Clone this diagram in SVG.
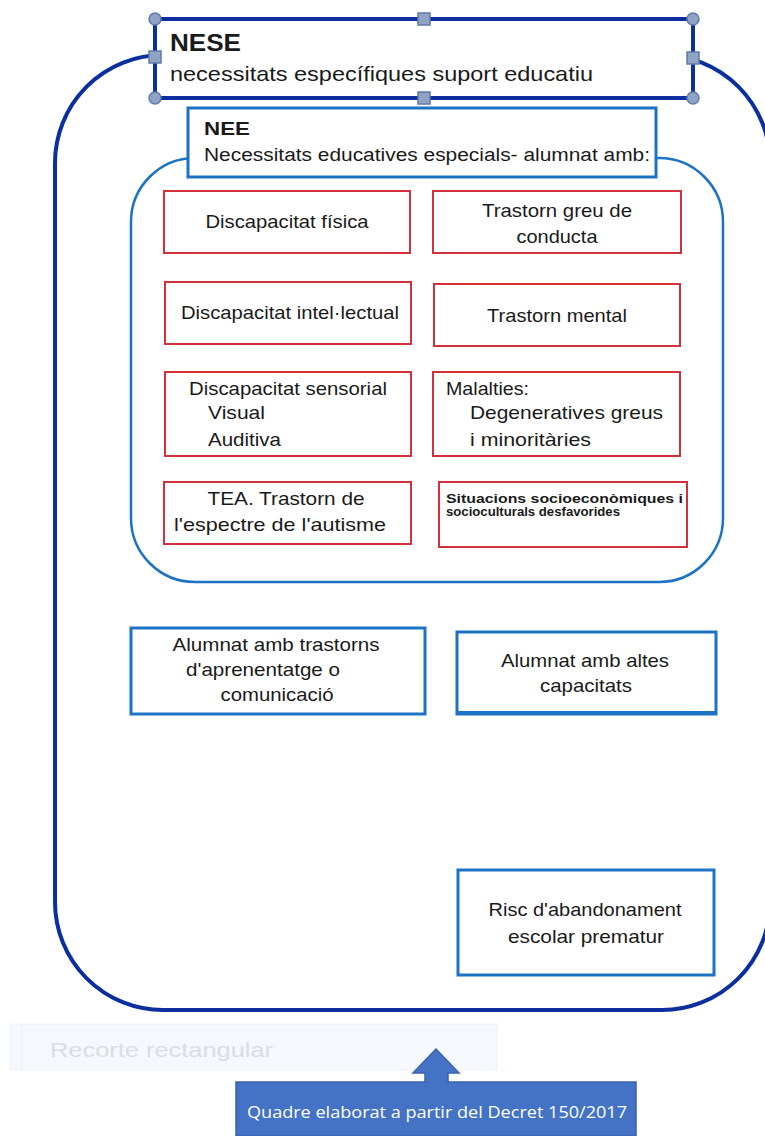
<svg xmlns="http://www.w3.org/2000/svg" width="765" height="1136" viewBox="0 0 765 1136">
<style>
text{font-family:"Liberation Sans",Arial,sans-serif;fill:#1a1a1a}
.red{fill:#fff;stroke:#d2303a;stroke-width:2}
.blue{fill:#fff;stroke:#1c72c4;stroke-width:3}
.t{font-size:18.5px}
.c{text-anchor:middle}
.h{fill:#8fa3c4;stroke:#5f7ba6;stroke-width:1.5}
</style>
<rect width="765" height="1136" fill="#fff"/>
<g id="outer"><rect x="55" y="55" width="715" height="955" rx="108" fill="none" stroke="#0b2f9f" stroke-width="4"/></g>
<g id="nese">
<rect x="155" y="19" width="538" height="79" fill="#fff" stroke="#0b2f9f" stroke-width="4"/>
<text x="170" y="51" textLength="71" lengthAdjust="spacingAndGlyphs" style="font-size:23px;font-weight:bold">NESE</text>
<text x="170" y="81" textLength="423" lengthAdjust="spacingAndGlyphs" style="font-size:21px">necessitats específiques suport educatiu</text>
<circle class="h" cx="155" cy="19" r="6"/><circle class="h" cx="693" cy="19" r="6"/>
<circle class="h" cx="155" cy="98" r="6"/><circle class="h" cx="693" cy="98" r="6"/>
<rect class="h" x="418" y="13" width="12" height="12"/><rect class="h" x="418" y="92" width="12" height="12"/>
<rect class="h" x="149" y="51" width="12" height="12"/><rect class="h" x="687" y="52" width="12" height="12"/>
</g>
<g id="inner"><rect x="131" y="158" width="592" height="424" rx="64" fill="none" stroke="#1c72c4" stroke-width="2.5"/></g>
<g id="nee">
<rect class="blue" x="188" y="108" width="468" height="69"/>
<text x="204" y="135" textLength="46" lengthAdjust="spacingAndGlyphs" style="font-size:19px;font-weight:bold">NEE</text>
<text x="204" y="161" textLength="446" lengthAdjust="spacingAndGlyphs" style="font-size:18px">Necessitats educatives especials- alumnat amb:</text>
</g>
<g id="n1"><rect class="red" x="164" y="191" width="246" height="62"/><text class="t c" x="287" y="228" textLength="163" lengthAdjust="spacingAndGlyphs">Discapacitat física</text></g>
<g id="n2"><rect class="red" x="433" y="191" width="248" height="62"/><text class="t c" x="557" y="217" textLength="150" lengthAdjust="spacingAndGlyphs">Trastorn greu de</text><text class="t c" x="557" y="243" textLength="81" lengthAdjust="spacingAndGlyphs">conducta</text></g>
<g id="n3"><rect class="red" x="165" y="282" width="246" height="62"/><text class="t c" x="290" y="319" textLength="218" lengthAdjust="spacingAndGlyphs">Discapacitat intel·lectual</text></g>
<g id="n4"><rect class="red" x="434" y="284" width="246" height="62"/><text class="t c" x="557" y="322" textLength="140" lengthAdjust="spacingAndGlyphs">Trastorn mental</text></g>
<g id="n5"><rect class="red" x="165" y="372" width="246" height="84"/><text class="t c" x="288" y="395" textLength="198" lengthAdjust="spacingAndGlyphs">Discapacitat sensorial</text><text class="t" x="208" y="419" textLength="57" lengthAdjust="spacingAndGlyphs">Visual</text><text class="t" x="208" y="446" textLength="73" lengthAdjust="spacingAndGlyphs">Auditiva</text></g>
<g id="n6"><rect class="red" x="433" y="372" width="247" height="84"/><text class="t" x="446" y="395" textLength="83" lengthAdjust="spacingAndGlyphs">Malalties:</text><text class="t" x="470" y="419" textLength="193" lengthAdjust="spacingAndGlyphs">Degeneratives greus</text><text class="t" x="470" y="446" textLength="121" lengthAdjust="spacingAndGlyphs">i minoritàries</text></g>
<g id="n7"><rect class="red" x="164" y="482" width="247" height="62"/><text class="t c" x="286" y="505" textLength="157" lengthAdjust="spacingAndGlyphs">TEA. Trastorn de</text><text class="t c" x="280" y="531" textLength="212" lengthAdjust="spacingAndGlyphs">l'espectre de l'autisme</text></g>
<g id="n8"><rect class="red" x="439" y="482" width="248" height="65"/><text x="446" y="503" textLength="237" lengthAdjust="spacingAndGlyphs" style="font-size:12px;font-weight:bold">Situacions socioeconòmiques i</text><text x="446" y="516" textLength="174" lengthAdjust="spacingAndGlyphs" style="font-size:12px;font-weight:bold">socioculturals desfavorides</text></g>
<g id="b1"><rect class="blue" x="131" y="628" width="294" height="86"/><text class="t c" x="276" y="651" textLength="207" lengthAdjust="spacingAndGlyphs">Alumnat amb trastorns</text><text class="t c" x="263" y="676" textLength="154" lengthAdjust="spacingAndGlyphs">d'aprenentatge  o</text><text class="t c" x="277" y="701" textLength="113" lengthAdjust="spacingAndGlyphs">comunicació</text></g>
<g id="b2"><rect class="blue" x="457" y="632" width="259" height="82"/><line x1="457" y1="713" x2="716" y2="713" stroke="#1c72c4" stroke-width="4"/><text class="t c" x="585" y="667" textLength="168" lengthAdjust="spacingAndGlyphs">Alumnat amb altes</text><text class="t c" x="586" y="692" textLength="92" lengthAdjust="spacingAndGlyphs">capacitats</text></g>
<g id="b3"><rect class="blue" x="458" y="870" width="256" height="105"/><text class="t c" x="585" y="916" textLength="193" lengthAdjust="spacingAndGlyphs">Risc d'abandonament</text><text class="t c" x="586" y="943" textLength="156" lengthAdjust="spacingAndGlyphs">escolar prematur</text></g>
<g id="ghost">
<rect x="10" y="1024" width="487" height="46" fill="#f5f8fd" stroke="#edf2f9" stroke-width="1"/>
<line x1="22" y1="1024" x2="22" y2="1070" stroke="#e8eef7" stroke-width="1"/>
<text x="50" y="1057" textLength="223" lengthAdjust="spacingAndGlyphs" style="font-size:21px;fill:#dadde2">Recorte rectangular</text>
</g>
<g id="callout">
<path d="M236 1082 H425 V1073 H413 L436 1049 L459 1073 H448 V1082 H636 V1136 H236 Z" fill="#4472c4" stroke="#3a62ad" stroke-width="1.5"/>
<text x="247" y="1118" textLength="380" lengthAdjust="spacingAndGlyphs" style="font-family:'Open Sans','Liberation Sans',sans-serif;font-size:16px;fill:#fff">Quadre elaborat a partir del Decret 150/2017</text>
</g>
<g id="connectors"/>
</svg>
